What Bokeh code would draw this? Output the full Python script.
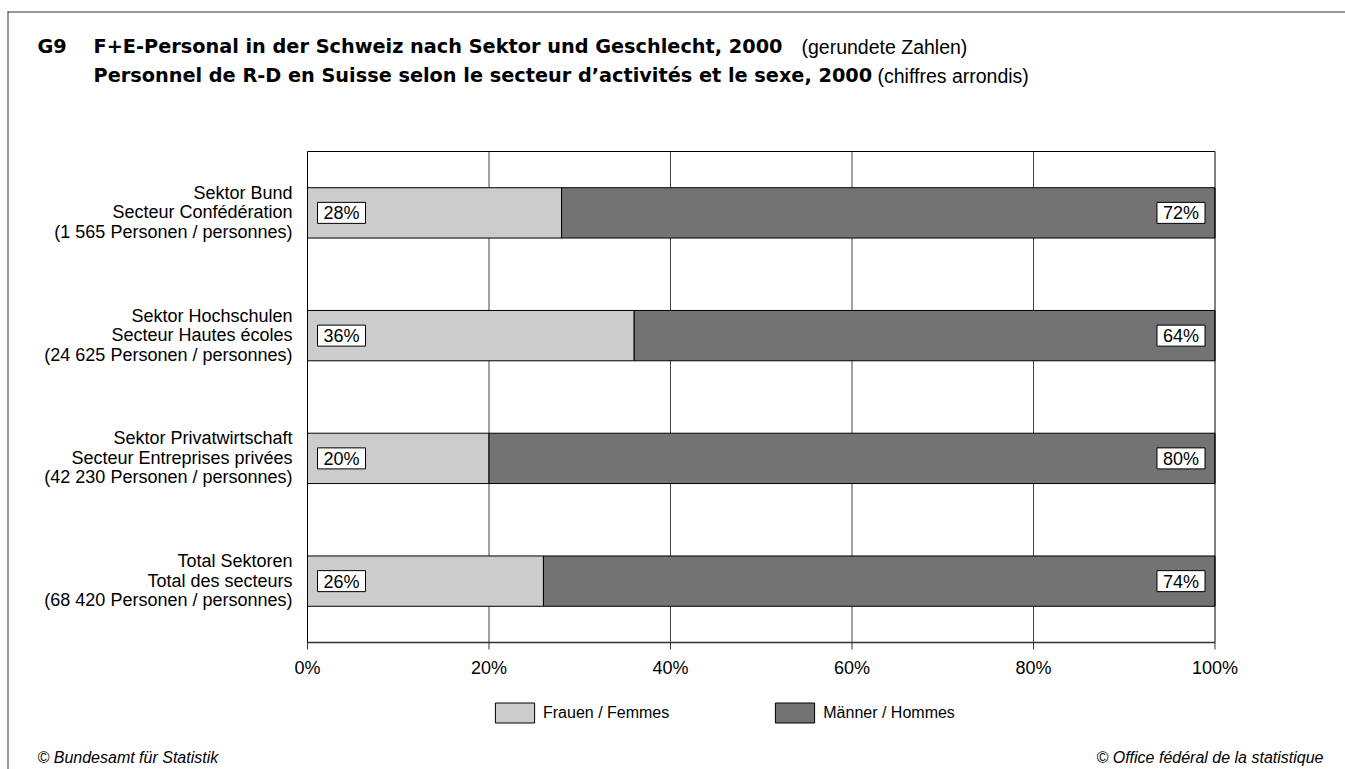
from bokeh.plotting import figure
from bokeh.models import (ColumnDataSource, Range1d, LabelSet, Label,
                          BoxAnnotation, Legend, LegendItem)
from bokeh.core.properties import value
from bokeh.embed import file_html
from bokeh.resources import INLINE

# ---------------- data ----------------
sector_de = ["Sektor Bund", "Sektor Hochschulen", "Sektor Privatwirtschaft", "Total Sektoren"]
sector_fr = ["Secteur Confédération", "Secteur Hautes écoles", "Secteur Entreprises privées", "Total des secteurs"]
persons = ["(1 565 Personen / personnes)", "(24 625 Personen / personnes)",
           "(42 230 Personen / personnes)", "(68 420 Personen / personnes)"]
women = [28, 36, 20, 26]
men = [72, 64, 80, 74]
series_names = ["Frauen / Femmes", "Männer / Hommes"]
series_colors = ["#cccccc", "#737373"]
x_ticks = [0, 20, 40, 60, 80, 100]
x_tick_labels = ["0%", "20%", "40%", "60%", "80%", "100%"]

FONT = "Liberation Sans"
BOLD_FONT = "DejaVu Sans"
W, H = 1345, 769
# plot area (in canvas pixels)
PX0, PX1, PY0, PY1 = 307, 1214.5, 151, 642
n = len(sector_de)
kx = (PX1 - PX0) / (x_ticks[-1] - x_ticks[0])
ky = (PY1 - PY0) / n

def top(page_y):  # screen y (up) from page y (down), label baseline correction
    return H - page_y + 8

ypos = [n - 1 - i + 0.5 for i in range(n)]
src = ColumnDataSource(dict(
    y=ypos, de=sector_de, fr=sector_fr, pers=persons,
    women=women, men=men,
    total=[w + m for w, m in zip(women, men)],
    zero=[0] * n,
    wlab=[f"{v}%" for v in women], mlab=[f"{v}%" for v in men],
))

p = figure(width=W, height=H, output_backend="svg", toolbar_location=None, title=None,
           x_range=Range1d(x_ticks[0] - PX0 / kx, x_ticks[-1] + (W - PX1) / kx),
           y_range=Range1d(-(H - PY1) / ky, n + PY0 / ky),
           min_border=0, x_axis_type=None, y_axis_type=None)
p.background_fill_color = "white"
p.border_fill_color = "white"
p.outline_line_color = None
p.xgrid.visible = False
p.ygrid.visible = False

# grid lines
p.segment(x0=x_ticks[1:-1], x1=x_ticks[1:-1], y0=[0] * 4, y1=[n] * 4,
          line_color="#444444", line_width=1)

rw = p.hbar(y="y", left="zero", right="women", height=0.41, source=src,
            fill_color=series_colors[0], line_color="black", line_width=1)
rm = p.hbar(y="y", left="women", right="total", height=0.41, source=src,
            fill_color=series_colors[1], line_color="black", line_width=1)

# plot frame
p.quad(left=[x_ticks[0]], right=[x_ticks[-1]], bottom=[0], top=[n],
       fill_color=None, line_color="black", line_width=1)

# x axis: line, ticks and labels
p.segment(x0=[x_ticks[0]], x1=[x_ticks[-1]], y0=[0], y1=[0], line_color="#333333", line_width=1.5)
p.segment(x0=x_ticks, x1=x_ticks, y0=[0] * 6, y1=[-7 / ky] * 6, line_color="#333333", line_width=1)
p.text(x=x_ticks, y=[0] * 6, text=x_tick_labels, y_offset=25, text_align="center",
       text_baseline="alphabetic", text_font=value(FONT), text_font_size="18px", text_color="black")

# percent labels in white boxes
pad = dict(left=6, right=6, top=1, bottom=0)
p.text(x="zero", y="y", text="wlab", source=src, x_offset=10,
       text_align="left", text_baseline="middle", text_font=value(FONT),
       text_font_size="18px", text_color="black",
       background_fill_color="white", border_line_color="black", border_line_width=1,
       padding=pad)
p.text(x="total", y="y", text="mlab", source=src, x_offset=-10,
       text_align="right", text_baseline="middle", text_font=value(FONT),
       text_font_size="18px", text_color="black",
       background_fill_color="white", border_line_color="black", border_line_width=1,
       padding=pad)

# category labels (three lines each)
for field, off in (("de", 14), ("fr", -5.5), ("pers", -25)):
    p.add_layout(LabelSet(x="zero", y="y", text=field, source=src, x_offset=-15, y_offset=off,
                          text_align="right", text_baseline="alphabetic", text_font=value(FONT),
                          text_font_size="18px", text_color="black"))

# titles
def lab(x, y, text, size, style="normal", align="left", font=FONT):
    p.add_layout(Label(x=x, y=top(y), x_units="screen", y_units="screen", text=text,
                       text_font=font, text_font_size=size, text_font_style=style,
                       text_baseline="alphabetic", text_align=align, text_color="black"))

lab(37, 54, "G9", "19.3px", "bold", font=BOLD_FONT)
lab(93, 54, "F+E-Personal in der Schweiz nach Sektor und Geschlecht, 2000", "19.3px", "bold", font=BOLD_FONT)
lab(801, 54, "(gerundete Zahlen)", "19.5px")
lab(93, 83, "Personnel de R-D en Suisse selon le secteur d’activités et le sexe, 2000", "19.3px", "bold", font=BOLD_FONT)
lab(877, 83, "(chiffres arrondis)", "19.5px")

# footers
lab(37, 765, "© Bundesamt für Statistik", "16px", "italic")
lab(1323, 765, "© Office fédéral de la statistique", "16px", "italic", "right")

# outer frame lines (top and left)
p.add_layout(BoxAnnotation(left=7, right=8, top=H - 11, bottom=-10,
                           left_units="screen", right_units="screen", top_units="screen",
                           bottom_units="screen", fill_color="#333333", fill_alpha=1,
                           line_color=None))
p.add_layout(BoxAnnotation(left=7, right=W + 10, top=H - 11, bottom=H - 12,
                           left_units="screen", right_units="screen", top_units="screen",
                           bottom_units="screen", fill_color="#333333", fill_alpha=1,
                           line_color=None))

# legend
legend = Legend(items=[LegendItem(label=series_names[0], renderers=[rw]),
                       LegendItem(label=series_names[1], renderers=[rm])],
                orientation="horizontal", location=(490, H - 725),
                glyph_width=49, glyph_height=25, label_standoff=4, spacing=101,
                padding=0, margin=0, border_line_color=None, background_fill_alpha=0,
                label_text_font=FONT, label_text_font_size="16px", label_text_color="black")
p.add_layout(legend, "center")

open("out.html", "w").write(file_html(p, INLINE))
